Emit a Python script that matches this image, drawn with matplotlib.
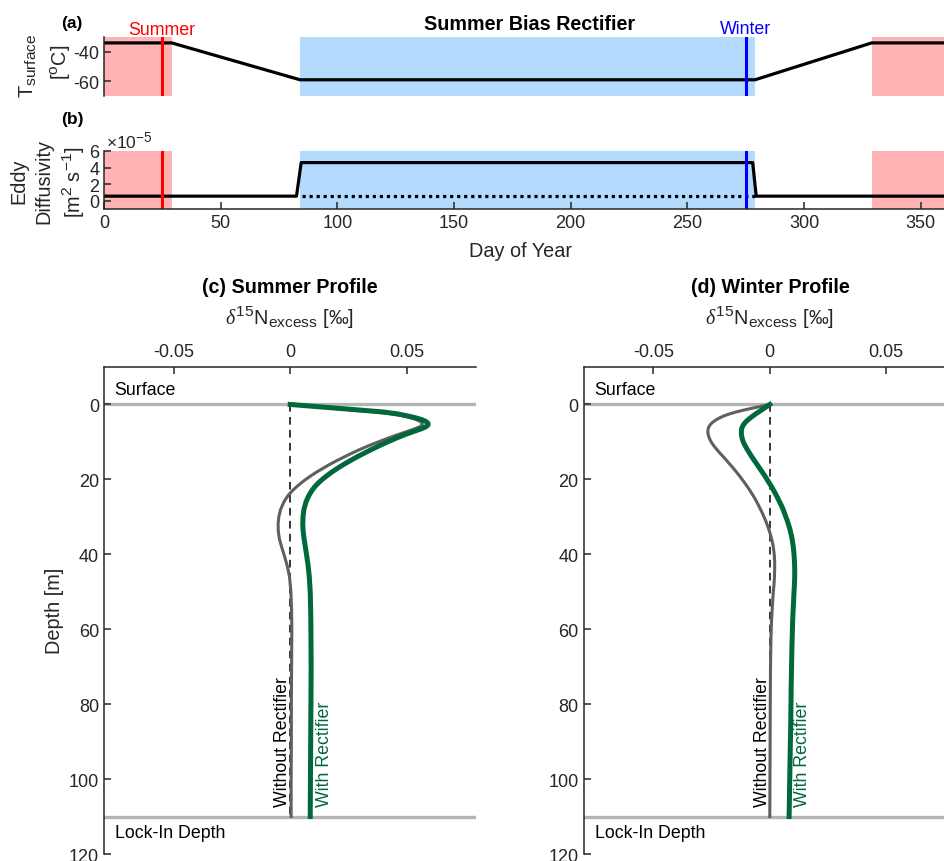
import matplotlib
matplotlib.use('Agg')
import matplotlib.pyplot as plt

try:
    import matplotlib._mathtext as _mt
    _mt.SHRINK_FACTOR = 0.78
except Exception:
    pass

plt.rcParams['font.family'] = ['Liberation Sans', 'DejaVu Sans']
plt.rcParams['mathtext.fontset'] = 'custom'
plt.rcParams['mathtext.rm'] = 'Liberation Sans'
plt.rcParams['mathtext.it'] = 'Liberation Serif:italic'
plt.rcParams['mathtext.bf'] = 'Liberation Sans:bold'
plt.rcParams['mathtext.default'] = 'regular'
plt.rcParams['axes.unicode_minus'] = False

# ---------------- data ----------------
days_T = [0, 29, 84, 279, 329, 365]
T_surface = [-34, -34, -59, -59, -34, -34]

days_K = [0, 82.5, 84.5, 278, 279.5, 365]
K_eddy = [0.55e-5, 0.55e-5, 4.6e-5, 4.6e-5, 0.55e-5, 0.55e-5]
days_K_base = [85, 279.5]
K_base = [0.55e-5, 0.55e-5]

summer_day = 25
winter_day = 275
summer_spans = [(0, 29), (329, 365)]
winter_span = (84, 279)

# (c) summer profile
depth_c_with = [0, 0.5, 1, 1.5, 2, 2.5, 3, 3.5, 4, 4.5, 5, 5.5, 6, 6.5, 7, 8, 9, 10, 11,
                12, 13, 14, 15, 16, 17, 18, 19, 20, 21, 22, 23, 24, 25, 26, 28, 30, 32,
                34, 36, 38, 40, 43, 46, 50, 55, 60, 70, 80, 90, 100, 110]
c_with = [0, 0.010, 0.020, 0.030, 0.040, 0.046, 0.050, 0.0535, 0.0563, 0.0582, 0.0592,
          0.0592, 0.0582, 0.0563, 0.054, 0.0495, 0.0455, 0.0418, 0.0383, 0.035, 0.0318,
          0.0287, 0.0258, 0.023, 0.0204, 0.018, 0.0158, 0.0138, 0.012, 0.0105, 0.0093,
          0.0083, 0.0075, 0.0068, 0.0059, 0.0055, 0.0054, 0.0056, 0.006, 0.0065, 0.007,
          0.0077, 0.0082, 0.0086, 0.0088, 0.0089, 0.009, 0.0089, 0.0088, 0.0087, 0.0086]
depth_c_without = [0, 0.5, 1, 1.5, 2, 2.5, 3, 3.5, 4, 4.5, 5, 5.5, 6, 6.5, 7, 8, 9, 10,
                   11, 12, 13, 14, 15, 16, 17, 18, 19, 20, 21, 22, 23, 24, 25, 26, 28,
                   30, 32, 34, 36, 38, 40, 43, 46, 50, 55, 60, 70, 80, 90, 100, 110]
c_without = [0, 0.009, 0.018, 0.027, 0.036, 0.043, 0.048, 0.0515, 0.054, 0.0558, 0.0567,
             0.0567, 0.0555, 0.0535, 0.0512, 0.0465, 0.042, 0.0378, 0.0338, 0.030,
             0.0265, 0.0232, 0.020, 0.017, 0.0142, 0.0115, 0.009, 0.0067, 0.0046, 0.0027,
             0.001, -0.0005, -0.0017, -0.0027, -0.0041, -0.0049, -0.0052, -0.0051,
             -0.0046, -0.0037, -0.0027, -0.0013, -0.0003, 0.0003, 0.0006, 0.0007, 0.0006,
             0.0005, 0.0005, 0.0004, 0.0004]

# (d) winter profile
depth_d_without = [0, 0.5, 1, 1.5, 2, 2.5, 3, 3.5, 4, 4.5, 5, 5.5, 6, 6.5, 7, 7.5, 8, 9,
                   10, 11, 12, 13, 14, 15, 16, 17, 18, 19, 20, 21, 22, 23, 24, 25, 26, 27,
                   28, 29, 30, 31, 32, 33, 34, 35, 36, 37, 38, 40, 42, 44, 46, 48, 50, 53,
                   57, 62, 70, 80, 95, 110]
d_without = [0, -0.0038, -0.0075, -0.0112, -0.0145, -0.0172, -0.0195, -0.0213, -0.0228,
             -0.024, -0.025, -0.0257, -0.0262, -0.0265, -0.0266, -0.0266, -0.0265, -0.026,
             -0.0252, -0.0241, -0.0228, -0.0214, -0.0199, -0.0185, -0.0171, -0.0157,
             -0.0144, -0.0131, -0.0119, -0.0107, -0.0096, -0.0085, -0.0075, -0.0065,
             -0.0056, -0.0048, -0.004, -0.0032, -0.0025, -0.0018, -0.0012, -0.0006,
             -0.0001, 0.0004, 0.0008, 0.0012, 0.0015, 0.0019, 0.0021, 0.0021, 0.002,
             0.0018, 0.0015, 0.0012, 0.0008, 0.0005, 0.0003, 0.0002, 0.0001, 0.0]
depth_d_with = [0, 0.5, 1, 1.5, 2, 2.5, 3, 3.5, 4, 4.5, 5, 5.5, 6, 6.5, 7, 7.5, 8, 9, 10,
                11, 12, 13, 14, 15, 16, 17, 18, 19, 20, 21, 22, 23, 24, 25, 26, 27, 28,
                29, 30, 31, 32, 33, 34, 35, 36, 38, 40, 42, 44, 46, 48, 50, 54, 58, 65,
                75, 85, 95, 110]
d_with = [0, -0.0012, -0.0024, -0.0036, -0.0048, -0.006, -0.0071, -0.0082, -0.0092,
          -0.0101, -0.0108, -0.0114, -0.0118, -0.0121, -0.0122, -0.0122, -0.0122,
          -0.0119, -0.0114, -0.0106, -0.0097, -0.0087, -0.0077, -0.0066, -0.0055,
          -0.0044, -0.0033, -0.0022, -0.0012, -0.0002, 0.0008, 0.0017, 0.0026, 0.0034,
          0.0042, 0.005, 0.0057, 0.0063, 0.0069, 0.0075, 0.008, 0.0085, 0.0089, 0.0093,
          0.0096, 0.0101, 0.0104, 0.0106, 0.0107, 0.0107, 0.0106, 0.0104, 0.0101,
          0.0098, 0.0095, 0.0092, 0.009, 0.0087, 0.0083]

surface_depth = 0
lockin_depth = 110

# ---------------- style ----------------
W, H = 945, 862
RED_FILL = '#ffb3b3'
BLUE_FILL = '#b4dbfd'
GREEN = '#00683a'
GRAY = '#5f5f5f'
LGRAY = '#b4b4b4'
AX = '#262626'
FS_TICK = 13
FS_LAB = 14.3
FS_TXT = 12.8
FS_TITLE = 14.2


def fx(px):
    return px / W


def fy(py):
    return 1 - py / H


def style_axes(ax, left=True, bottom=False, top=False):
    for s in ['left', 'right', 'top', 'bottom']:
        ax.spines[s].set_visible(False)
        ax.spines[s].set_color(AX)
        ax.spines[s].set_linewidth(1.1)
    ax.spines['left'].set_visible(left)
    ax.spines['bottom'].set_visible(bottom)
    ax.spines['top'].set_visible(top)
    ax.tick_params(direction='in', length=5, width=1.1, colors=AX, labelsize=FS_TICK,
                   labelcolor=AX, pad=3.5)
    ax.patch.set_alpha(0)


fig = plt.figure(figsize=(W / 100, H / 100), dpi=100)

# ---------------- (a) ----------------
axA = fig.add_axes([fx(104), fy(97), fx(955.7 - 104), 59 / H])
for a, b in summer_spans:
    axA.axvspan(a, b, color=RED_FILL, lw=0)
axA.axvspan(*winter_span, color=BLUE_FILL, lw=0)
axA.plot(days_T, T_surface, color='k', lw=2.3)
axA.axvline(summer_day, color='red', lw=2.2)
axA.axvline(winter_day, color='blue', lw=2.2)
axA.set_xlim(0, 365)
axA.set_ylim(-70, -30)
axA.set_yticks([-60, -40])
axA.set_yticklabels(['-60', '-40'])
axA.set_xticks([])
style_axes(axA, left=True, bottom=False)

# ---------------- (b) ----------------
axB = fig.add_axes([fx(104), fy(210), fx(955.7 - 104), 58 / H])
for a, b in summer_spans:
    axB.axvspan(a, b, color=RED_FILL, lw=0)
axB.axvspan(*winter_span, color=BLUE_FILL, lw=0)
axB.plot(days_K, K_eddy, color='k', lw=2.3)
axB.plot(days_K_base, K_base, color='k', lw=2.3, ls=(0, (1, 1.2)))
axB.axvline(summer_day, color='red', lw=2.2)
axB.axvline(winter_day, color='blue', lw=2.2)
axB.set_xlim(0, 365)
axB.set_ylim(-1e-5, 6e-5)
axB.set_yticks([0, 2e-5, 4e-5, 6e-5])
axB.set_yticklabels(['0', '2', '4', '6'])
axB.set_xticks(range(0, 351, 50))
style_axes(axB, left=True, bottom=True)


# ---------------- (c), (d) ----------------
def profile(ax, dep_wo, val_wo, dep_w, val_w, wo_x, w_x):
    ax.axhline(surface_depth, color=LGRAY, lw=2.4, zorder=1)
    ax.axhline(lockin_depth, color=LGRAY, lw=2.4, zorder=1)
    ax.plot([0, 0], [surface_depth, lockin_depth], color='k', lw=1.1,
            ls=(0, (5, 3.5)), zorder=2)
    ax.plot(val_wo, dep_wo, color=GRAY, lw=2.2, zorder=3, solid_joinstyle='round')
    ax.plot(val_w, dep_w, color=GREEN, lw=3.6, zorder=4, solid_joinstyle='round')
    ax.set_xlim(-0.08, 0.08)
    ax.set_ylim(120, -10)
    ax.xaxis.tick_top()
    ax.set_xticks([-0.05, 0, 0.05])
    ax.set_xticklabels(['-0.05', '0', '0.05'])
    ax.set_yticks(range(0, 121, 20))
    style_axes(ax, left=True, bottom=False, top=True)
    ax.tick_params(axis='x', pad=5)
    ax.text(-0.0755, -2.8, 'Surface', fontsize=FS_TXT, color='k', ha='left',
            va='baseline')
    ax.text(-0.0752, 115.5, 'Lock-In Depth', fontsize=FS_TXT, color='k', ha='left',
            va='baseline')
    ax.text(wo_x, 107.3, 'Without Rectifier', rotation=90, fontsize=FS_TXT, color='k',
            ha='center', va='bottom')
    ax.text(w_x, 107.3, 'With Rectifier', rotation=90, fontsize=FS_TXT, color=GREEN,
            ha='center', va='bottom')


axC = fig.add_axes([fx(104), fy(855), fx(372.4), 487 / H])
profile(axC, depth_c_without, c_without, depth_c_with, c_with, -0.0032, 0.0146)

axD = fig.add_axes([fx(583.6), fy(855), fx(372.4), 487 / H])
profile(axD, depth_d_without, d_without, depth_d_with, d_with, -0.0032, 0.0142)

# ---------------- texts ----------------
xlab = r'$\mathit{\delta}^{15}$N$_{excess}$ [‰]'
for cx, title in [(290, '(c) Summer Profile'), (770, '(d) Winter Profile')]:
    fig.text(fx(cx), fy(293), title, fontsize=FS_TITLE, fontweight='bold', ha='center',
             va='baseline')
    fig.text(fx(cx), fy(325), xlab, fontsize=FS_LAB, color=AX, ha='center',
             va='baseline')

fig.text(fx(530), fy(30), 'Summer Bias Rectifier', fontsize=FS_TITLE, fontweight='bold',
         ha='center', va='baseline')
fig.text(fx(72), fy(28), '(a)', fontsize=12.5, fontweight='bold', ha='center',
         va='baseline')
fig.text(fx(72), fy(124), '(b)', fontsize=12.5, fontweight='bold', ha='center',
         va='baseline')
fig.text(fx(162), fy(35), 'Summer', fontsize=FS_TXT, color='red', ha='center',
         va='baseline')
fig.text(fx(746), fy(33.5), 'Winter', fontsize=FS_TXT, color='blue', ha='center',
         va='baseline')

fig.text(fx(28), fy(66), r'T$_{surface}$', fontsize=FS_LAB, color=AX, rotation=90,
         ha='center', va='center')
fig.text(fx(61), fy(62), r'[$^{o}$C]', fontsize=FS_LAB, color=AX, rotation=90,
         ha='center', va='center')

fig.text(fx(19), fy(181), 'Eddy', fontsize=FS_LAB, color=AX, rotation=90, ha='center',
         va='center')
fig.text(fx(44), fy(181), 'Diffusivity', fontsize=FS_LAB, color=AX, rotation=90,
         ha='center', va='center')
fig.text(fx(74), fy(182), r'[m$^{2}$ s$^{-1}$]', fontsize=FS_LAB, color=AX, rotation=90,
         ha='center', va='center')
fig.text(fx(106), fy(148), r'$\times$10$^{-5}$', fontsize=12.5, color=AX, ha='left',
         va='baseline')

fig.text(fx(521), fy(257), 'Day of Year', fontsize=FS_LAB, color=AX, ha='center',
         va='baseline')
fig.text(fx(55), fy(611), 'Depth [m]', fontsize=FS_LAB, color=AX, rotation=90,
         ha='center', va='center')

fig.savefig('out.png', dpi=100)
